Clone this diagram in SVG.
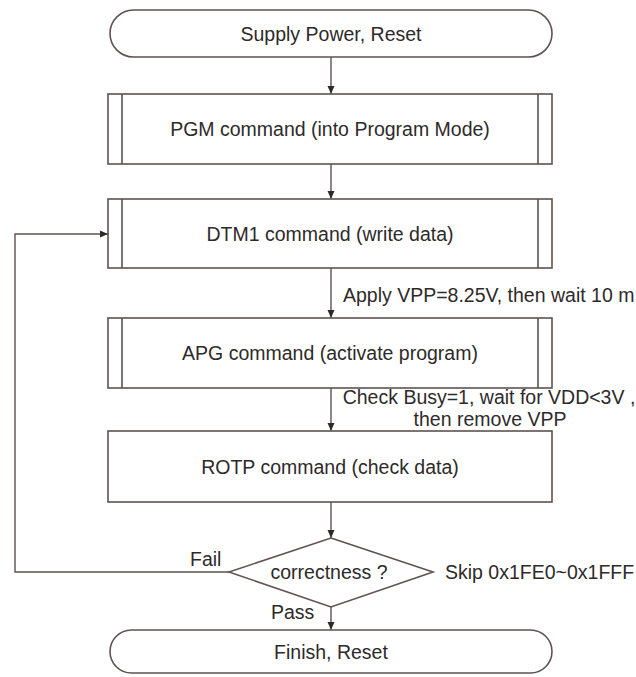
<svg xmlns="http://www.w3.org/2000/svg" width="636" height="677" viewBox="0 0 636 677">
<style>
  .shape { fill: #ffffff; stroke: #5e5350; stroke-width: 1.6; }
  .line { fill: none; stroke: #5e5350; stroke-width: 1.6; }
  .conn { fill: none; stroke: #5e5350; stroke-width: 1.4; marker-end: url(#arrow); }
  text { font-family: "Liberation Sans", Arial, sans-serif; font-size: 19.5px; fill: #2e2a2a; }
  .c { text-anchor: middle; }
</style>
<defs>
  <marker id="arrow" markerWidth="9" markerHeight="9" refX="8" refY="4.5" orient="auto" markerUnits="userSpaceOnUse">
    <path d="M0,1 L8,4.5 L0,8 Z" fill="#2e2a2a"/>
  </marker>
</defs>
<rect width="636" height="677" fill="#ffffff"/>

<g id="connectors">
  <line class="conn" x1="331" y1="57" x2="331" y2="94"/>
  <line class="conn" x1="331" y1="164" x2="331" y2="199"/>
  <line class="conn" x1="331" y1="268" x2="331" y2="318"/>
  <line class="conn" x1="331" y1="388" x2="331" y2="431"/>
  <line class="conn" x1="331" y1="502" x2="331" y2="538"/>
  <line class="conn" x1="331" y1="607" x2="331" y2="630"/>
  <polyline class="conn" points="229,572 15,572 15,234 108,234"/>
  <text x="343" y="302">Apply VPP=8.25V, then wait 10 m</text>
  <text class="c" x="489" y="404">Check Busy=1, wait for VDD&lt;3V ,</text>
  <text class="c" x="490" y="426">then remove VPP</text>
  <text x="190" y="566">Fail</text>
  <text x="271" y="619">Pass</text>
  <text x="445" y="579">Skip 0x1FE0~0x1FFF</text>
</g>

<g id="start">
  <rect class="shape" x="110" y="10" width="442" height="47" rx="23.5" ry="23.5"/>
  <text class="c" x="331" y="41">Supply Power, Reset</text>
</g>

<g id="pgm">
  <rect class="shape" x="108" y="94" width="444" height="70"/>
  <line class="line" x1="122" y1="94" x2="122" y2="164"/>
  <line class="line" x1="538" y1="94" x2="538" y2="164"/>
  <text class="c" x="330" y="136">PGM command (into Program Mode)</text>
</g>

<g id="dtm1">
  <rect class="shape" x="108" y="199" width="444" height="69"/>
  <line class="line" x1="122" y1="199" x2="122" y2="268"/>
  <line class="line" x1="538" y1="199" x2="538" y2="268"/>
  <text class="c" x="330" y="241">DTM1 command (write data)</text>
</g>

<g id="apg">
  <rect class="shape" x="108" y="318" width="444" height="70"/>
  <line class="line" x1="122" y1="318" x2="122" y2="388"/>
  <line class="line" x1="538" y1="318" x2="538" y2="388"/>
  <text class="c" x="330" y="360">APG command (activate program)</text>
</g>

<g id="rotp">
  <rect class="shape" x="108" y="431" width="444" height="71"/>
  <text class="c" x="330" y="474">ROTP command (check data)</text>
</g>

<g id="decision">
  <polygon class="shape" points="331,538 433,572 331,607 229,572"/>
  <text class="c" x="329" y="579">correctness ?</text>
</g>

<g id="finish">
  <rect class="shape" x="110" y="630" width="442" height="43" rx="21.5" ry="21.5"/>
  <text class="c" x="331" y="659">Finish, Reset</text>
</g>
</svg>
